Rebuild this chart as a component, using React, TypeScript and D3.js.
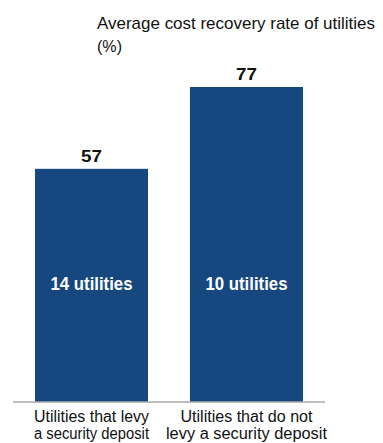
import React from "react";
import * as d3 from "d3";

const categories = ["Utilities that levy|a security deposit", "Utilities that do not|levy a security deposit"];
const values = [57, 77];
const counts = ["14 utilities", "10 utilities"];
const titleLines = ["Average cost recovery rate of utilities", "(%)"];

const W = 383;
const H = 443;
const BAR = "#17477F";
const FONT = "'Liberation Sans', Arial, sans-serif";

// approximate rendered widths of the condensed original typeface
const titleWidths = [278, 25];
const catWidths = [[115, 115], [132, 161]];
const countWidth = 82;

export default function App() {
  const x = d3.scaleBand<string>().domain(categories).range([13, 325]).paddingInner(0.271).paddingOuter(0.142);
  const y = d3.scaleLinear().domain([0, 77]).range([402, 87]);
  return (
    <svg width={W} height={H} style={{ position: "absolute", left: 0, top: 0 }} fontFamily={FONT}>
      {titleLines.map((t, i) => (
        <text key={i} x={97} y={29 + i * 23} fontSize={17} fill="#111" textLength={titleWidths[i]} lengthAdjust="spacingAndGlyphs">{t}</text>
      ))}
      {categories.map((c, i) => {
        const bx = x(c)!;
        const bw = x.bandwidth();
        const cx = bx + bw / 2;
        return (
          <g key={c}>
            <rect x={bx} y={y(values[i])} width={bw} height={y(0) - y(values[i])} fill={BAR} />
            <text x={cx} y={y(values[i]) - 7} textAnchor="middle" fontSize={17} fontWeight="bold" fill="#111" textLength={21} lengthAdjust="spacingAndGlyphs">{values[i]}</text>
            <text x={cx} y={290} textAnchor="middle" fontSize={18} fontWeight="bold" fill="#fff" textLength={countWidth} lengthAdjust="spacingAndGlyphs">{counts[i]}</text>
            {c.split("|").map((l, j) => (
              <text key={j} x={cx} y={422 + j * 17} textAnchor="middle" fontSize={16} fill="#111" textLength={catWidths[i][j]} lengthAdjust="spacingAndGlyphs">{l}</text>
            ))}
          </g>
        );
      })}
      <line x1={13} x2={325} y1={y(0)} y2={y(0)} stroke="#aaa" strokeWidth={1.5} />
    </svg>
  );
}
